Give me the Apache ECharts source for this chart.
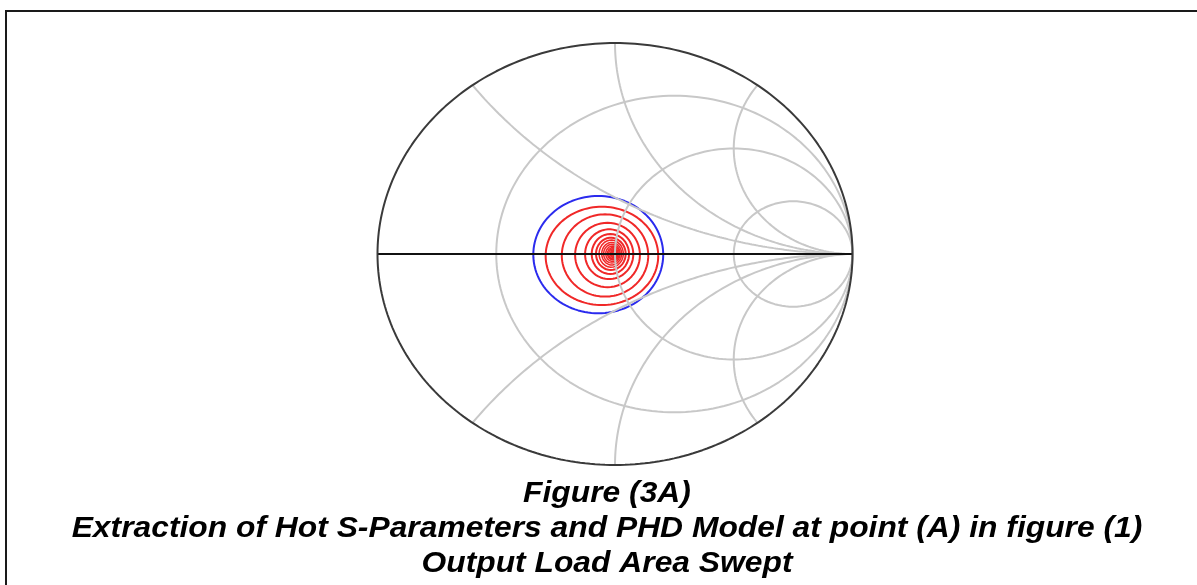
<!DOCTYPE html>
<html>
<head>
<meta charset="utf-8">
<script src="https://cdn.jsdelivr.net/npm/echarts@6/dist/echarts.min.js"></script>
<style>
html,body{margin:0;padding:0;background:#fff;}
#chart{width:1197px;height:585px;}
</style>
</head>
<body>
<div id="chart"></div>
<script>
// Smith chart grid values
const resistanceCircles = [1/3, 1, 3];
const reactanceArcs = [0.5, 1, 2];

// Contour extents in reflection-coefficient units: [left, right, top, bottom]
const blueExtent = [-0.344, 0.203, 0.275, -0.281];
const redLeft   = [-0.292, -0.224, -0.168, -0.126, -0.098, -0.080, -0.067, -0.056, -0.048, -0.039, -0.032, -0.027, -0.021, -0.017, -0.013, -0.008];
const redRight  = [0.182, 0.140, 0.105, 0.077, 0.059, 0.045, 0.035, 0.028, 0.022, 0.018, 0.014, 0.011, 0.008, 0.006, 0.004, 0.003];
const redTop    = [0.224, 0.188, 0.148, 0.117, 0.095, 0.077, 0.066, 0.055, 0.046, 0.038, 0.031, 0.025, 0.020, 0.017, 0.013, 0.009];
const redBottom = [-0.242, -0.202, -0.157, -0.119, -0.095, -0.076, -0.063, -0.052, -0.043, -0.035, -0.028, -0.024, -0.019, -0.014, -0.011, -0.007];

const titleLines = ['Figure (3A)', 'Extraction of Hot S-Parameters and PHD Model at point (A) in figure (1)', 'Output Load Area Swept'];

function ellipseFromExtent(l, r, t, b) {
  const cx = (l + r) / 2, cy = (t + b) / 2, a = (r - l) / 2, bb = (t - b) / 2;
  const pts = [];
  for (let i = 0; i <= 120; i++) {
    const th = i / 120 * Math.PI * 2;
    pts.push([cx + a * Math.cos(th), cy + bb * Math.sin(th)]);
  }
  return pts;
}
function circlePts(cx, cy, R, a0, a1, n) {
  const pts = [];
  for (let i = 0; i <= n; i++) {
    const th = a0 + (a1 - a0) * i / n;
    pts.push([cx + R * Math.cos(th), cy + R * Math.sin(th)]);
  }
  return pts;
}
function lineSeries(data, color, width, z) {
  return { type: 'line', data: data, showSymbol: false, symbol: 'none', silent: true, clip: false,
    animation: false, z: z, lineStyle: { color: color, width: width } };
}

const series = [];
// contours
series.push(lineSeries(ellipseFromExtent(...blueExtent), '#2b2bee', 2, 2));
for (let i = 0; i < redLeft.length; i++) {
  series.push(lineSeries(ellipseFromExtent(redLeft[i], redRight[i], redTop[i], redBottom[i]), '#f02828', i < 6 ? 2 : 1.5, 2));
}
// resistance circles
resistanceCircles.forEach(r => {
  series.push(lineSeries(circlePts(r / (r + 1), 0, 1 / (r + 1), 0, Math.PI * 2, 200), '#c8c8c8', 2, 3));
});
// reactance arcs
reactanceArcs.forEach(x => {
  [1, -1].forEach(s => {
    const R = 1 / x;
    const ex = (x * x - 1) / (x * x + 1), ey = 2 * x / (x * x + 1);
    let thEnd = Math.atan2(ey - R, ex - 1);
    if (thEnd > -Math.PI / 2) thEnd -= Math.PI * 2;
    const pts = circlePts(1, R, R, -Math.PI / 2, thEnd, 200).map(p => [p[0], s * p[1]]);
    series.push(lineSeries(pts, '#c8c8c8', 2, 3));
  });
});
// real axis
series.push(lineSeries([[-1, 0], [1, 0]], '#111111', 2, 4));
// outer circle
series.push(lineSeries(circlePts(0, 0, 1, 0, Math.PI * 2, 300), '#3a3a3a', 2, 5));

const chart = echarts.init(document.getElementById('chart'), null, { renderer: 'canvas' });
const graphics = [
  { type: 'rect', shape: { x: 6, y: 11, width: 1400, height: 800 }, style: { fill: 'none', stroke: '#1a1a1a', lineWidth: 2 }, silent: true }
];
const baselines = [494, 529, 564];
titleLines.forEach((t, i) => {
  graphics.push({ type: 'text', x: 607, y: baselines[i], scaleX: 1.06, scaleY: 1, silent: true,
    style: { text: t, font: 'italic bold 30px "Liberation Sans", Arial, sans-serif', fill: '#000', align: 'center', verticalAlign: 'middle' } });
});
chart.setOption({
  animation: false,
  grid: { left: 377.5, right: 344.5, top: 43, bottom: 120 },
  xAxis: { type: 'value', min: -1, max: 1, show: false },
  yAxis: { type: 'value', min: -1, max: 1, show: false },
  series: series,
  graphic: graphics
});
</script>
</body>
</html>
